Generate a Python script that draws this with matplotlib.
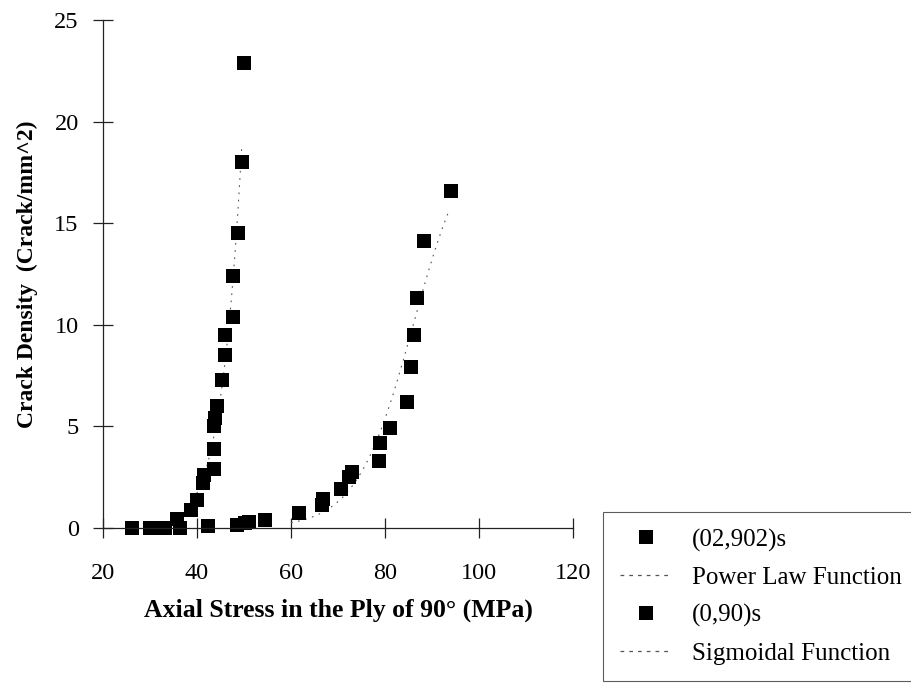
import numpy as np
import matplotlib
matplotlib.use("Agg")
import matplotlib.pyplot as plt
from matplotlib.lines import Line2D

plt.rcParams['font.family'] = ['Liberation Serif', 'DejaVu Serif']

# (02,902)s laminate: axial stress in the 90° ply (MPa) vs crack density
stress_02902 = [26.1, 30.0, 31.0, 32.0, 33.1, 35.7, 36.3, 38.8, 40.0, 41.2, 41.5,
                43.7, 43.7, 43.7, 43.8, 44.3, 45.3, 46.0, 46.0, 47.6, 47.6,
                48.7, 49.6, 49.9]
density_02902 = [0.0, 0.0, 0.0, 0.0, 0.0, 0.45, 0.0, 0.9, 1.4, 2.2, 2.6,
                 2.9, 3.9, 5.0, 5.4, 6.0, 7.3, 8.5, 9.5, 10.4, 12.4,
                 14.5, 18.0, 22.9]

# (0,90)s laminate
stress_090 = [42.4, 48.5, 50.2, 51.0, 54.4, 61.6, 66.5, 66.9, 70.6, 72.4, 72.9,
              78.8, 79.0, 81.1, 84.7, 85.5, 86.1, 86.9, 88.3, 94.0]
density_090 = [0.1, 0.15, 0.27, 0.3, 0.4, 0.75, 1.15, 1.45, 1.9, 2.5, 2.75,
               3.3, 4.2, 4.9, 6.2, 7.9, 9.5, 11.3, 14.1, 16.6]

# Fitted model parameters
power_law = dict(a=5.0, x_ref=44.0, b=11.2, x_from=35.0, x_to=49.5)
sigmoid = dict(A=20.0, x0=86.0, w=6.0, x_from=60.0, x_to=93.5)

x_ticks = [20, 40, 60, 80, 100, 120]
y_ticks = [0, 5, 10, 15, 20, 25]

fig = plt.figure(figsize=(9.12, 6.83), dpi=100)
ax = fig.add_axes([103 / 912, 1 - 528 / 683, 470 / 912, 508 / 683])

xp = np.linspace(power_law['x_from'], power_law['x_to'], 200)
yp = power_law['a'] * (xp / power_law['x_ref']) ** power_law['b']
xs = np.linspace(sigmoid['x_from'], sigmoid['x_to'], 200)
ys = sigmoid['A'] / (1 + np.exp(-(xs - sigmoid['x0']) / sigmoid['w']))

dot_style = dict(color='#555555', linewidth=0.8, linestyle=(0, (1.5, 5)))
ax.plot(xp, yp, **dot_style)
ax.plot(xs, ys, **dot_style)

sq = dict(marker='s', markersize=9.8, color='black', linestyle='none', markeredgewidth=0)
ax.plot(stress_02902, density_02902, clip_on=False, **sq)
ax.plot(stress_090, density_090, clip_on=False, **sq)

ax.set_xlim(20, 120)
ax.set_ylim(0, 25)
ax.set_xticks(x_ticks)
ax.set_yticks(y_ticks)
for side in ('top', 'right'):
    ax.spines[side].set_visible(False)
for side in ('left', 'bottom'):
    ax.spines[side].set_linewidth(0.9)
    ax.spines[side].set_color('#222222')
ax.tick_params(axis='both', direction='inout', length=15, width=0.9,
               color='#222222', labelsize=17.5)
ax.tick_params(axis='x', pad=18)
ax.tick_params(axis='y', pad=10)

ax.set_xlabel('Axial Stress in the Ply of 90° (MPa)', fontsize=18.5,
              fontweight='bold', labelpad=10)
ax.set_ylabel('Crack Density  (Crack/mm^2)', fontsize=17,
              fontweight='bold', labelpad=12)

handles = [
    Line2D([], [], marker='s', markersize=9.8, color='black', linestyle='none',
           markeredgewidth=0),
    Line2D([], [], color='#555555', linewidth=0.9, linestyle=(0, (3, 4))),
    Line2D([], [], marker='s', markersize=9.8, color='black', linestyle='none',
           markeredgewidth=0),
    Line2D([], [], color='#555555', linewidth=0.9, linestyle=(0, (3, 4))),
]
labels = ['(02,902)s', 'Power Law Function', '(0,90)s', 'Sigmoidal Function']
leg = fig.legend(handles, labels, loc='upper left',
                 bbox_to_anchor=(603 / 912, 1 - 512 / 683),
                 bbox_transform=fig.transFigure, fontsize=18,
                 frameon=True, fancybox=False, borderaxespad=0,
                 handlelength=2.1, handletextpad=0.8, labelspacing=0.6,
                 borderpad=0.66)
leg.get_frame().set_edgecolor('#333333')
leg.get_frame().set_linewidth(0.8)

fig.savefig('out.png', dpi=100)
